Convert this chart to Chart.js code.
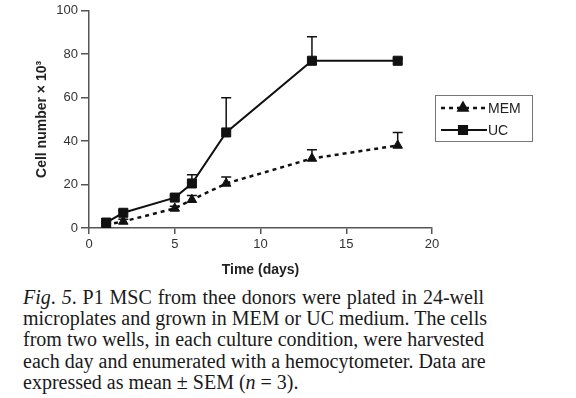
<!DOCTYPE html>
<html>
<head>
<meta charset="utf-8">
<script src="https://cdn.jsdelivr.net/npm/chart.js@4.4.1/dist/chart.umd.min.js"></script>
<style>
body{margin:0;background:#fff;}
#caja{position:relative;width:576px;height:398px;overflow:hidden;}
#grafica{position:absolute;left:0;top:0;}
#pie{position:absolute;left:23px;top:287px;width:461px;font-family:"Liberation Serif",serif;font-size:20px;line-height:21.2px;color:#1a1a1a;}
#pie div{text-align:justify;text-align-last:justify;white-space:nowrap;}
#pie div.ultima{text-align-last:left;}
</style>
</head>
<body>
<div id="caja">
<canvas id="grafica" width="576" height="280"></canvas>
<div id="pie">
<div><i>Fig</i>. <i>5</i>. P1 MSC from thee donors were plated in 24-well</div>
<div>microplates and grown in MEM or UC medium. The cells</div>
<div>from two wells, in each culture condition, were harvested</div>
<div>each day and enumerated with a hemocytometer. Data are</div>
<div class="ultima">expressed as mean ± SEM (<i>n</i> = 3).</div>
</div>
</div>
<script>
const dias = [1, 2, 5, 6, 8, 13, 18];
const valoresMEM = [1.5, 3, 9, 13, 20.5, 32, 38];
const erroresMEM = [0.5, 1, 1, 2, 3, 4, 6];
const valoresUC = [2.5, 7, 14, 20.5, 44, 77, 77];
const erroresUC = [0.5, 1, 1, 4, 16, 11, 1];
const ticksX = [0, 5, 10, 15, 20];
const ticksY = [0, 20, 40, 60, 80, 100];

const colorTinta = '#111';
const colorEje = '#555';

function puntos(valores){
    return dias.map((d, i) => ({x: d, y: valores[i]}));
}

// barras de error (solo hacia arriba)
const barrasError = {
    id: 'barrasError',
    beforeDatasetsDraw(chart){
        const ctx = chart.ctx;
        const escalaX = chart.scales.x;
        const escalaY = chart.scales.y;
        ctx.save();
        ctx.strokeStyle = colorTinta;
        ctx.lineWidth = 1.5;
        chart.data.datasets.forEach(ds => {
            ds.errores.forEach((e, i) => {
                const px = escalaX.getPixelForValue(ds.data[i].x);
                const py = escalaY.getPixelForValue(ds.data[i].y);
                const pt = escalaY.getPixelForValue(ds.data[i].y + e);
                ctx.beginPath();
                ctx.moveTo(px, py);
                ctx.lineTo(px, pt);
                ctx.moveTo(px - 5, pt);
                ctx.lineTo(px + 5, pt);
                ctx.stroke();
            });
        });
        ctx.restore();
    }
};

// leyenda con recuadro, fuera del area del grafico
const leyendaCaja = {
    id: 'leyendaCaja',
    afterDraw(chart){
        const ctx = chart.ctx;
        const x0 = 435, y0 = 95, ancho = 97, alto = 46;
        ctx.save();
        ctx.strokeStyle = '#777';
        ctx.lineWidth = 1;
        ctx.strokeRect(x0 + 0.5, y0 + 0.5, ancho, alto);
        const filas = [108, 130];
        chart.data.datasets.forEach((ds, i) => {
            const y = filas[i];
            ctx.strokeStyle = ds.borderColor;
            ctx.lineWidth = ds.borderWidth;
            ctx.setLineDash(ds.borderDash || []);
            ctx.beginPath();
            ctx.moveTo(441, y);
            ctx.lineTo(487, y);
            ctx.stroke();
            ctx.setLineDash([]);
            ctx.fillStyle = colorTinta;
            Chart.helpers.drawPoint(ctx, {pointStyle: ds.pointStyle, radius: ds.pointRadius * 0.9, borderWidth: 1}, 463, y);
            ctx.fill();
            ctx.fillStyle = '#222';
            ctx.font = '14px "Liberation Sans", Arial, sans-serif';
            ctx.textBaseline = 'middle';
            ctx.fillText(ds.label, 488, y + 1);
        });
        ctx.restore();
    }
};

const fuente = {family: '"Liberation Sans", Arial, sans-serif', size: 13};
const fuenteTitulo = {family: '"Liberation Sans", Arial, sans-serif', size: 14, weight: 'bold'};

new Chart(document.getElementById('grafica'), {
    type: 'line',
    data: {
        datasets: [{
            label: 'MEM',
            data: puntos(valoresMEM),
            errores: erroresMEM,
            borderColor: colorTinta,
            backgroundColor: colorTinta,
            borderWidth: 2.5,
            borderDash: [4, 4],
            pointStyle: 'triangle',
            pointRadius: 5.5,
            pointBackgroundColor: colorTinta,
            pointBorderColor: colorTinta,
            pointBorderWidth: 1,
            tension: 0,
            order: 2
        }, {
            label: 'UC',
            data: puntos(valoresUC),
            errores: erroresUC,
            borderColor: colorTinta,
            backgroundColor: colorTinta,
            borderWidth: 2,
            pointStyle: 'rect',
            pointRadius: 6.4,
            pointBackgroundColor: colorTinta,
            pointBorderColor: colorTinta,
            pointBorderWidth: 1,
            tension: 0,
            order: 1
        }]
    },
    options: {
        responsive: false,
        animation: false,
        layout: {padding: {left: 30, right: 144, top: 10, bottom: 0}},
        plugins: {legend: {display: false}, tooltip: {enabled: false}},
        scales: {
            x: {
                type: 'linear',
                min: 0,
                max: 20,
                afterBuildTicks: escala => { escala.ticks = ticksX.map(v => ({value: v})); },
                afterFit: escala => { escala.height = 52; },
                ticks: {font: fuente, color: '#333', padding: 3},
                grid: {drawOnChartArea: false, tickLength: 6, color: colorEje, lineWidth: 1.5},
                border: {color: colorEje, width: 1.5},
                title: {display: true, text: 'Time (days)', font: fuenteTitulo, color: '#222', padding: {top: 4, bottom: 1}}
            },
            y: {
                min: 0,
                max: 100,
                afterBuildTicks: escala => { escala.ticks = ticksY.map(v => ({value: v})); },
                afterFit: escala => { escala.width = 59; },
                ticks: {font: fuente, color: '#333', padding: 3},
                grid: {drawOnChartArea: false, tickLength: 8, color: colorEje, lineWidth: 1.5},
                border: {color: colorEje, width: 1.5},
                title: {display: true, text: 'Cell number × 10³', font: fuenteTitulo, color: '#222'}
            }
        }
    },
    plugins: [barrasError, leyendaCaja]
});
</script>
</body>
</html>
